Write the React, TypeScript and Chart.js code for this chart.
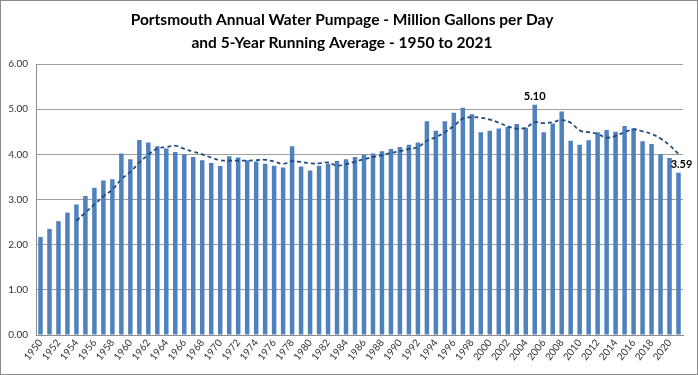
import React, { useEffect, useRef } from "react";
import { Chart, registerables } from "chart.js";

Chart.register(...registerables);

const years: string[] = [];
for (let y = 1950; y <= 2021; y++) years.push(String(y));

const pumpage: number[] = [
  2.17, 2.35, 2.52, 2.71, 2.89, 3.08, 3.26, 3.42, 3.45, 4.02,
  3.89, 4.32, 4.26, 4.18, 4.13, 4.05, 4.0, 3.94, 3.87, 3.81,
  3.74, 3.96, 3.93, 3.87, 3.84, 3.79, 3.75, 3.71, 4.18, 3.73,
  3.64, 3.75, 3.79, 3.85, 3.89, 3.94, 3.99, 4.02, 4.07, 4.12,
  4.16, 4.21, 4.26, 4.73, 4.52, 4.73, 4.92, 5.03, 4.89, 4.49,
  4.52, 4.57, 4.61, 4.67, 4.59, 5.1, 4.49, 4.68, 4.95, 4.3,
  4.21, 4.31, 4.49, 4.54, 4.5, 4.63, 4.58, 4.29, 4.23, 4.0,
  3.92, 3.59,
];

const runningAvg: (number | null)[] = [
  null, null, null, null, 2.53, 2.71, 2.89, 3.07, 3.22, 3.45,
  3.61, 3.82, 3.99, 4.13, 4.16, 4.19, 4.12, 4.06, 4.0, 3.93,
  3.87, 3.86, 3.86, 3.86, 3.87, 3.88, 3.84, 3.79, 3.85, 3.83,
  3.8, 3.8, 3.82, 3.75, 3.78, 3.84, 3.89, 3.94, 3.98, 4.03,
  4.07, 4.12, 4.16, 4.3, 4.38, 4.49, 4.63, 4.79, 4.82, 4.81,
  4.77, 4.7, 4.62, 4.57, 4.59, 4.71, 4.69, 4.71, 4.76, 4.7,
  4.53, 4.49, 4.45, 4.37, 4.41, 4.49, 4.55, 4.51, 4.45, 4.35,
  4.2, 4.01,
];

const labeledYears: string[] = ["2005", "2021"];

const titleLines: string[] = [
  "Portsmouth Annual Water Pumpage - Million Gallons per Day",
  "and 5-Year Running Average - 1950 to 2021",
];

const valueLabelPlugin = {
  id: "valueLabels",
  afterDatasetsDraw(chart: any) {
    const meta = chart.getDatasetMeta(0);
    const ctx = chart.ctx;
    ctx.save();
    ctx.font = "bold 11px Lato";
    ctx.fillStyle = "#000";
    ctx.textAlign = "center";
    ctx.textBaseline = "bottom";
    labeledYears.forEach((yr) => {
      const i = years.indexOf(yr);
      if (i < 0) return;
      const el = meta.data[i];
      ctx.fillText(pumpage[i].toFixed(2), el.x + (i === years.length - 1 ? 3 : 0), el.y - 3);
    });
    ctx.restore();
  },
};

export default function App() {
  const ref = useRef<HTMLCanvasElement>(null);
  useEffect(() => {
    document.body.style.margin = "0";
    const chart = new Chart(ref.current!, {
      type: "bar",
      data: {
        labels: years,
        datasets: [
          {
            type: "bar",
            label: "Pumpage",
            data: pumpage,
            backgroundColor: "#4f81bd",
            categoryPercentage: 1,
            barPercentage: 0.5,
            order: 2,
          },
          {
            type: "line",
            label: "5-Year Running Average",
            data: runningAvg,
            borderColor: "#1f497d",
            borderWidth: 1.75,
            borderDash: [4, 3],
            pointRadius: 0,
            tension: 0.4,
            fill: false,
            order: 1,
          } as any,
        ],
      },
      options: {
        responsive: false,
        animation: false,
        layout: { padding: { left: 0, right: 14, top: 0, bottom: 0 } },
        plugins: {
          legend: { display: false },
          tooltip: { enabled: false },
          title: {
            display: true,
            text: titleLines,
            color: "#000",
            font: { family: "Lato", size: 15.5, weight: "bold", lineHeight: "23px" },
            padding: { top: 7, bottom: 10 },
          },
        },
        scales: {
          x: {
            grid: { display: false, drawTicks: false },
            border: { display: true, color: "#8c8c8c" },
            afterFit: (s: any) => { s.height = 39; },
            ticks: {
              autoSkip: false,
              minRotation: 52,
              maxRotation: 52,
              padding: 2,
              color: "#333",
              font: { family: "Lato", size: 10 },
              callback: (_v: any, i: number) => (i % 2 === 0 ? years[i] : ""),
            },
          },
          y: {
            min: 0,
            max: 6,
            grid: { color: "#a0a0a0", drawTicks: false },
            border: { display: true, color: "#8c8c8c" },
            afterFit: (s: any) => { s.width = 35; },
            ticks: {
              stepSize: 1,
              padding: 8,
              color: "#333",
              font: { family: "Lato", size: 10 },
              callback: (v: any) => Number(v).toFixed(2),
            },
          },
        },
      },
      plugins: [valueLabelPlugin],
    });
    return () => chart.destroy();
  }, []);
  return (
    <div
      style={{
        width: 698,
        height: 375,
        boxSizing: "border-box",
        border: "1px solid #8c8c8c",
        background: "#fff",
      }}
    >
      <canvas ref={ref} width={696} height={373} style={{ display: "block" }} />
    </div>
  );
}
